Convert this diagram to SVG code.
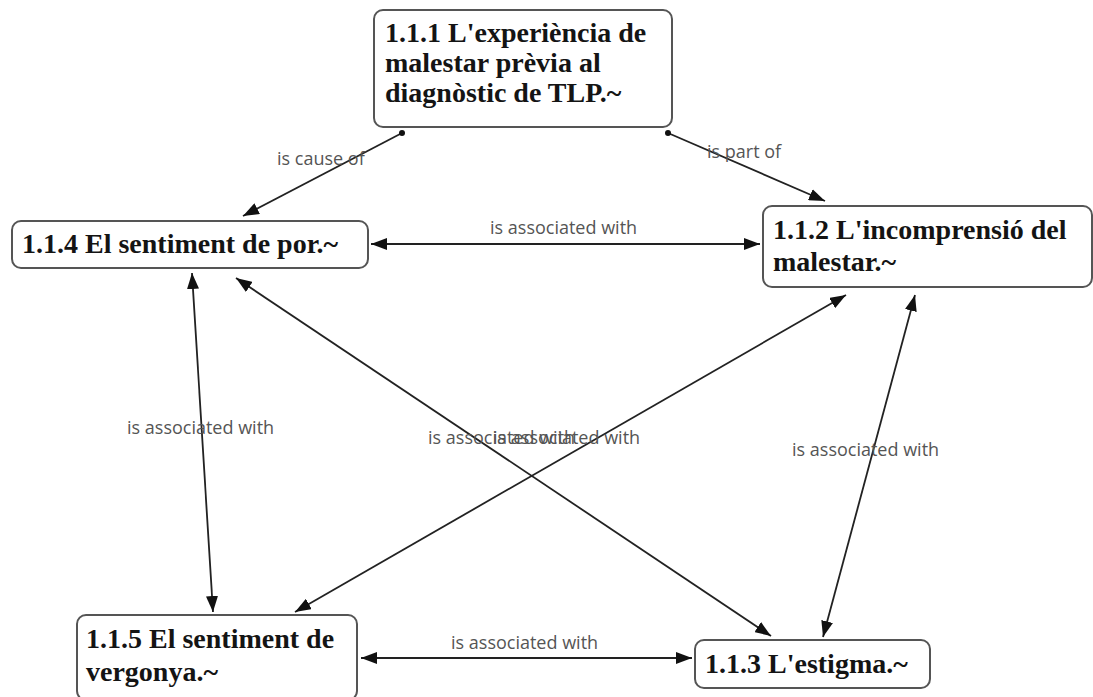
<svg xmlns="http://www.w3.org/2000/svg" width="1093" height="697" viewBox="0 0 1093 697">
  <style>
    .node rect { fill: #ffffff; stroke: #555555; stroke-width: 2; }
    .node text { font-family: "Liberation Serif", "Times New Roman", serif; font-weight: bold; font-size: 28px; fill: #141414; }
    .edge { stroke: #222222; stroke-width: 1.8; fill: none; }
    .label { font-family: "Open Sans", "Liberation Sans", sans-serif; font-size: 18px; fill: #555555; }
  </style>
  <defs>
    <marker id="arrow" viewBox="0 0 16 12" refX="16" refY="6" markerWidth="16" markerHeight="12" markerUnits="userSpaceOnUse" orient="auto-start-reverse">
      <path d="M0,0 L16,6 L0,12 Z" fill="#111111"/>
    </marker>
    <marker id="dot" viewBox="0 0 6 6" refX="3" refY="3" markerWidth="6" markerHeight="6" markerUnits="userSpaceOnUse">
      <circle cx="3" cy="3" r="3" fill="#111111"/>
    </marker>
  </defs>

  <rect width="1093" height="697" fill="#ffffff"/>

  <!-- connectors -->
  <g id="connectors">
    <line class="edge" x1="402" y1="133" x2="243" y2="216" marker-start="url(#dot)" marker-end="url(#arrow)"/>
    <line class="edge" x1="668" y1="133" x2="825" y2="201" marker-start="url(#dot)" marker-end="url(#arrow)"/>
    <line class="edge" x1="371" y1="244" x2="760" y2="244" marker-start="url(#arrow)" marker-end="url(#arrow)"/>
    <line class="edge" x1="192" y1="273" x2="213" y2="612" marker-start="url(#arrow)" marker-end="url(#arrow)"/>
    <line class="edge" x1="236" y1="278" x2="771" y2="636" marker-start="url(#arrow)" marker-end="url(#arrow)"/>
    <line class="edge" x1="846" y1="295" x2="295" y2="612" marker-start="url(#arrow)" marker-end="url(#arrow)"/>
    <line class="edge" x1="915" y1="295" x2="823" y2="637" marker-start="url(#arrow)" marker-end="url(#arrow)"/>
    <line class="edge" x1="361" y1="658" x2="692" y2="658" marker-start="url(#arrow)" marker-end="url(#arrow)"/>

    <text class="label" x="277" y="165">is cause of</text>
    <text class="label" x="707" y="158">is part of</text>
    <text class="label" x="490" y="234">is associated with</text>
    <text class="label" x="127" y="434">is associated with</text>
    <text class="label" x="428" y="444">is associated with</text>
    <text class="label" x="493" y="444">is associated with</text>
    <text class="label" x="792" y="456">is associated with</text>
    <text class="label" x="451" y="649">is associated with</text>
  </g>

  <!-- nodes -->
  <g id="n111" class="node">
    <rect x="374" y="10" width="298" height="117" rx="9"/>
    <text x="385" y="42">1.1.1 L'experiència de</text>
    <text x="385" y="72">malestar prèvia al</text>
    <text x="385" y="102">diagnòstic de TLP.~</text>
  </g>
  <g id="n114" class="node">
    <rect x="12" y="221" width="356" height="47" rx="9"/>
    <text x="22" y="253">1.1.4 El sentiment de por.~</text>
  </g>
  <g id="n112" class="node">
    <rect x="763" y="206" width="329" height="81" rx="9"/>
    <text x="773" y="239">1.1.2 L'incomprensió del</text>
    <text x="773" y="271">malestar.~</text>
  </g>
  <g id="n115" class="node">
    <rect x="77" y="615" width="280" height="85" rx="9"/>
    <text x="86" y="648">1.1.5 El sentiment de</text>
    <text x="86" y="681">vergonya.~</text>
  </g>
  <g id="n113" class="node">
    <rect x="695" y="640" width="235" height="48" rx="9"/>
    <text x="705" y="673">1.1.3 L'estigma.~</text>
  </g>
</svg>
